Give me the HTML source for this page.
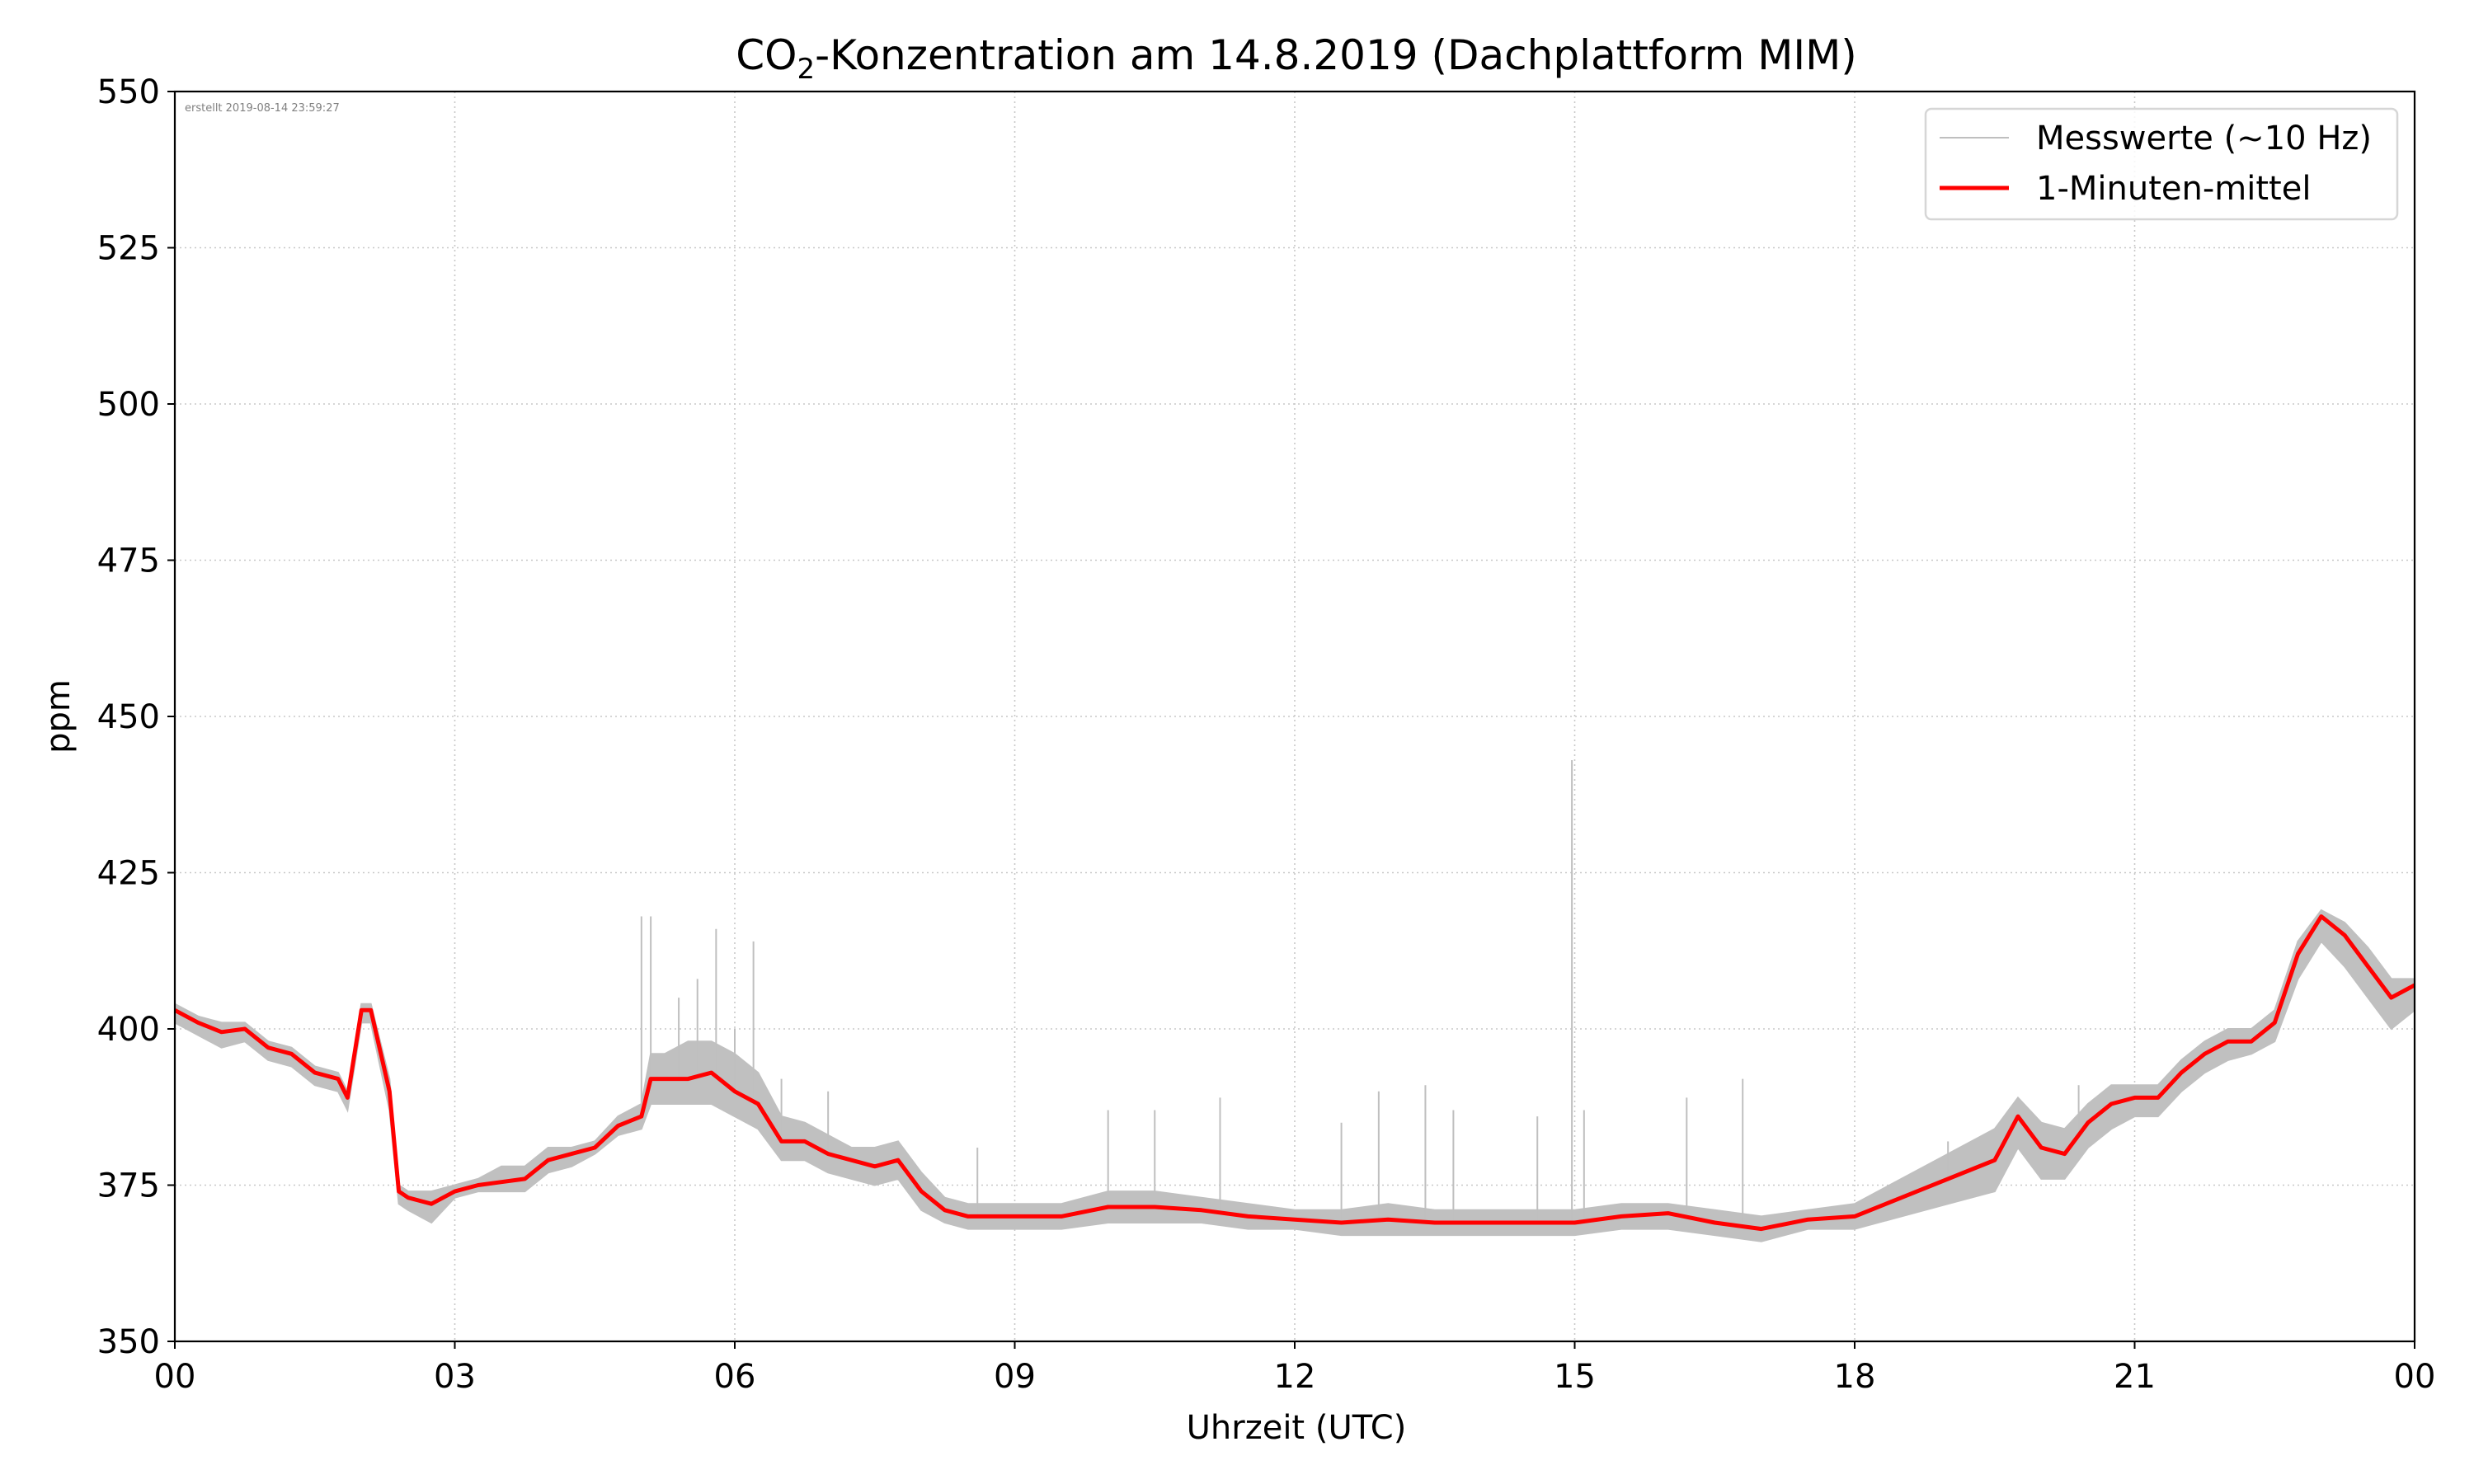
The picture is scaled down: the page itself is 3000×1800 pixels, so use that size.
<!DOCTYPE html>
<html><head><meta charset="utf-8">
<style>
html,body{margin:0;padding:0;background:#fff;}
svg{display:block;font-family:"DejaVu Sans","Liberation Sans",sans-serif;}
</style></head>
<body>
<svg id="chart" width="3000" height="1800" viewBox="0 0 3000 1800" xmlns="http://www.w3.org/2000/svg">
<rect x="0" y="0" width="3000" height="1800" fill="#fff"/>
<g id="grid"></g>
<g id="series"></g>
<rect x="212" y="111" width="2716" height="1516" fill="none" stroke="#000" stroke-width="2.2"/>
<g id="axes"></g>
<text x="1572" y="84" text-anchor="middle" font-size="50">CO<tspan font-size="34" dy="11">2</tspan><tspan dy="-11">-Konzentration am 14.8.2019 (Dachplattform MIM)</tspan></text>
<text x="224" y="135" font-size="13" fill="#808080">erstellt 2019-08-14 23:59:27</text>
<text x="1572" y="1745" text-anchor="middle" font-size="40">Uhrzeit (UTC)</text>
<text x="0" y="0" transform="translate(84,869) rotate(-90)" text-anchor="middle" font-size="40">ppm</text>
<g>
<rect x="2335" y="132" width="572" height="134" rx="7" fill="#fff" fill-opacity="0.85" stroke="#d6d6d6" stroke-width="2.5"/>
<line x1="2352" y1="167" x2="2436" y2="167" stroke="#bfbfbf" stroke-width="2"/>
<text x="2469" y="181" font-size="40">Messwerte (~10 Hz)</text>
<line x1="2352" y1="228" x2="2436" y2="228" stroke="#ff0000" stroke-width="5"/>
<text x="2469" y="242" font-size="40">1-Minuten-mittel</text>
</g>
</svg>
<script>
const hours = [0,0.25,0.5,0.75,1.0,1.25,1.5,1.75,1.85,2.0,2.1,2.3,2.4,2.5,2.75,3.0,3.25,3.5,3.75,4.0,4.25,4.5,4.75,5.0,5.1,5.25,5.5,5.75,6.0,6.25,6.5,6.75,7.0,7.25,7.5,7.75,8.0,8.25,8.5,9.0,9.5,10.0,10.5,11.0,11.5,12.0,12.5,13.0,13.5,14.0,14.5,15.0,15.5,16.0,16.5,17.0,17.5,18.0,18.5,19.0,19.5,19.75,20.0,20.25,20.5,20.75,21.0,21.25,21.5,21.75,22.0,22.25,22.5,22.75,23.0,23.25,23.5,23.75,24.0];
const meanValues = [403,401,399.5,400,397,396,393,392,389,403,403,390,374,373,372,374,375,375.5,376,379,380,381,384.5,386,392,392,392,393,390,388,382,382,380,379,378,379,374,371,370,370,370,371.5,371.5,371,370,369.5,369,369.5,369,369,369,369,370,370.5,369,368,369.5,370,373,376,379,386,381,380,385,388,389,389,393,396,398,398,401,412,418,415,410,405,407];
const rawHigh = [404,402,401,401,398,397,394,393,390,404,404,392,375,374,374,375,376,378,378,381,381,382,386,388,396,396,398,398,396,393,386,385,383,381,381,382,377,373,372,372,372,374,374,373,372,371,371,372,371,371,371,371,372,372,371,370,371,372,376,380,384,389,385,384,388,391,391,391,395,398,400,400,403,414,419,417,413,408,408];
const rawLow = [401,399,397,398,395,394,391,390,387,401,401,387,372,371,369,373,374,374,374,377,378,380,383,384,388,388,388,388,386,384,379,379,377,376,375,376,371,369,368,368,368,369,369,369,368,368,367,367,367,367,367,367,368,368,367,366,368,368,370,372,374,381,376,376,381,384,386,386,390,393,395,396,398,408,414,410,405,400,403];
const spikeHours = [5.0,5.1,5.4,5.6,5.8,6.0,6.2,6.5,7.0,8.6,10.0,10.5,11.2,12.5,12.9,13.4,13.7,14.6,14.97,15.1,16.2,16.8,19.0,20.4];
const spikeValues = [418,418,405,408,416,400,414,392,390,381,387,387,389,385,390,391,387,386,443,387,389,392,382,391];
const xTickHours = [0,3,6,9,12,15,18,21,24];
const xTickLabels = ["00","03","06","09","12","15","18","21","00"];
const yTickValues = [350,375,400,425,450,475,500,525,550];

const X0=212,X1=2928,Y0=1627,Y1=111;
function xs(h){return X0+(h/24)*(X1-X0);}
function ys(v){return Y0-(v-350)/200*(Y0-Y1);}
const NS="http://www.w3.org/2000/svg";
function mk(tag,attrs,parent){const e=document.createElementNS(NS,tag);for(const k in attrs)e.setAttribute(k,attrs[k]);parent.appendChild(e);return e;}
const grid=document.getElementById('grid'),axes=document.getElementById('axes'),series=document.getElementById('series');

xTickHours.forEach((h,i)=>{
  const x=xs(h);
  const g=mk('line',{x1:x,y1:Y1,x2:x,y2:Y0,stroke:'#c8c8c8','stroke-width':1.6,'stroke-dasharray':'2,4'},grid);
  
  
  const t=mk('line',{x1:x,y1:Y0,x2:x,y2:Y0+9,stroke:'#000','stroke-width':2},axes);
  
  
  const l=mk('text',{x:x,y:Y0+56,'text-anchor':'middle','font-size':40},axes);
  l.textContent=xTickLabels[i];
  
  
});
yTickValues.forEach(v=>{
  const y=ys(v);
  const g=mk('line',{x1:X0,y1:y,x2:X1,y2:y,stroke:'#c8c8c8','stroke-width':1.6,'stroke-dasharray':'2,4'},grid);
  
  
  const t=mk('line',{x1:X0-9,y1:y,x2:X0,y2:y,stroke:'#000','stroke-width':2},axes);
  
  
  const l=mk('text',{x:X0-18,y:y+14,'text-anchor':'end','font-size':40},axes);
  l.textContent=String(v);
  
  
});

let d='';
hours.forEach((h,i)=>{d+=(i?'L':'M')+xs(h).toFixed(1)+','+ys(rawHigh[i]).toFixed(1);});
for(let i=hours.length-1;i>=0;i--){d+='L'+xs(hours[i]).toFixed(1)+','+ys(rawLow[i]).toFixed(1);}
d+='Z';
const band=mk('path',{d:d,fill:'#c0c0c0',stroke:'#c0c0c0','stroke-width':2},series);


spikeHours.forEach((h,i)=>{
  let j=0;while(j<hours.length-1&&hours[j+1]<h)j++;
  const t=(h-hours[j])/(hours[j+1]-hours[j]);
  const base=meanValues[j]+(meanValues[j+1]-meanValues[j])*t;
  const s=mk('line',{x1:xs(h),y1:ys(base),x2:xs(h),y2:ys(spikeValues[i]),stroke:'#bfbfbf','stroke-width':2},series);
  
  
});
let m='';
hours.forEach((h,i)=>{m+=(i?'L':'M')+xs(h).toFixed(1)+','+ys(meanValues[i]).toFixed(1);});
const ml=mk('path',{d:m,fill:'none',stroke:'#ff0000','stroke-width':5,'stroke-linejoin':'round'},series);


</script>
</body></html>
